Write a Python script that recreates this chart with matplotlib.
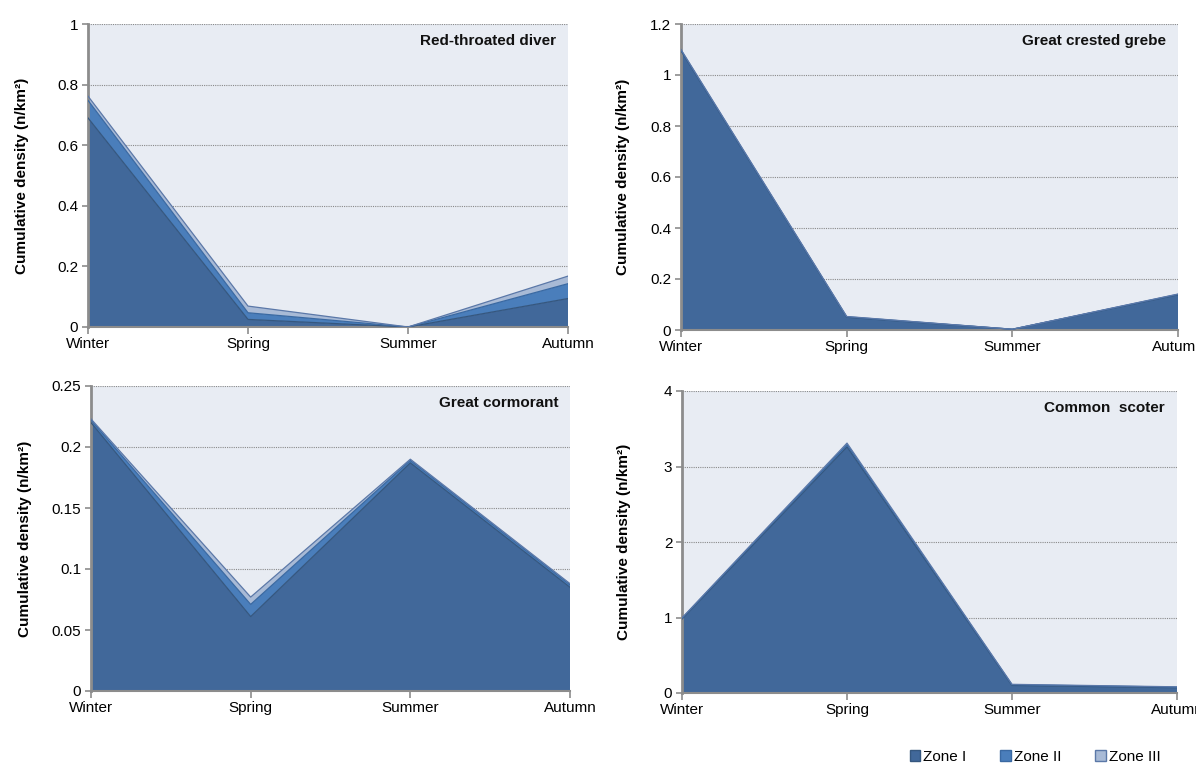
import matplotlib
matplotlib.use("Agg")
import matplotlib.pyplot as plt
from matplotlib.patches import Patch
import numpy as np

plt.rcParams['font.family'] = ['Liberation Sans', 'DejaVu Sans']

seasons = ["Winter", "Spring", "Summer", "Autumn"]
zones = ["Zone I", "Zone II", "Zone III"]

# Red-throated diver
rtd_zone1 = [0.69, 0.025, 0.0, 0.094]
rtd_zone2 = [0.058, 0.022, 0.0, 0.049]
rtd_zone3 = [0.014, 0.022, 0.0, 0.025]
# Great crested grebe
gcg_zone1 = [1.095, 0.050, 0.003, 0.138]
gcg_zone2 = [0.003, 0.002, 0.0, 0.002]
gcg_zone3 = [0.002, 0.001, 0.0, 0.001]
# Great cormorant
gc_zone1 = [0.220, 0.061, 0.187, 0.085]
gc_zone2 = [0.002, 0.010, 0.002, 0.002]
gc_zone3 = [0.001, 0.006, 0.001, 0.001]
# Common scoter
cs_zone1 = [0.98, 3.26, 0.10, 0.07]
cs_zone2 = [0.01, 0.03, 0.01, 0.008]
cs_zone3 = [0.005, 0.02, 0.005, 0.004]

panels = [
    ("Red-throated diver", [rtd_zone1, rtd_zone2, rtd_zone3], 1.0, 0.2),
    ("Great crested grebe", [gcg_zone1, gcg_zone2, gcg_zone3], 1.2, 0.2),
    ("Great cormorant", [gc_zone1, gc_zone2, gc_zone3], 0.25, 0.05),
    ("Common  scoter", [cs_zone1, cs_zone2, cs_zone3], 4.0, 1.0),
]

# axes boxes in pixels: left, right, top, bottom
boxes = [
    (88, 568, 24, 327),
    (681, 1178, 24, 330),
    (91, 570, 386, 691),
    (682, 1177, 391, 693),
]

W, H = 1196, 763
fig = plt.figure(figsize=(W / 100, H / 100), dpi=100)

fill_colors = ["#41689A", "#4A7EBB", "#A8BAD6"]
edge_colors = ["#35577F", "#3A69A2", "#5B78A8"]
bg = "#E8ECF3"
axis_gray = "#8C8C8C"

for (title, data, ymax, step), (l, r, t, b) in zip(panels, boxes):
    ax = fig.add_axes([l / W, 1 - b / H, (r - l) / W, (b - t) / H])
    ax.set_facecolor(bg)
    x = np.arange(len(seasons))
    ax.stackplot(x, *data, colors=fill_colors, edgecolor=None, linewidth=0)
    cum = np.zeros(len(seasons))
    for vals, ec in zip(data, edge_colors):
        cum = cum + np.array(vals)
        ax.plot(x, cum, color=ec, lw=0.9, zorder=3)
    ax.set_xlim(0, 3)
    ax.set_ylim(0, ymax)
    ticks = np.round(np.arange(0, ymax + step / 2, step), 4)
    ax.set_yticks(ticks)
    ax.set_yticklabels(["{:g}".format(v) for v in ticks])
    ax.set_xticks(x)
    ax.set_xticklabels(seasons)
    ax.tick_params(axis='both', labelsize=11, color=axis_gray, direction='out', width=1.2)
    ax.tick_params(axis='x', length=5, pad=2)
    ax.tick_params(axis='y', length=4, pad=3)
    for tk in ticks[1:]:
        ax.axhline(tk, color="#8A8A8A", lw=0.8, ls=(0, (1, 1)), zorder=0.5)
    for s in ["top", "right"]:
        ax.spines[s].set_visible(False)
    ax.spines["left"].set_color(axis_gray)
    ax.spines["left"].set_linewidth(2)
    ax.spines["bottom"].set_color(axis_gray)
    ax.spines["bottom"].set_linewidth(1.5)
    ax.set_axisbelow(False)
    ax.text(0.975, 1 - 17 / (b - t), title, transform=ax.transAxes, ha='right', va='center',
            fontsize=11, fontweight='bold', color='#111111')
    ax.set_ylabel("Cumulative density (n/km²)", fontsize=11, fontweight='bold')
    lab_x_px = l - 59 if l < 600 else l - 51
    ax.yaxis.set_label_coords((lab_x_px - l) / (r - l), 0.5)

handles = [Patch(facecolor=c, edgecolor=e, label=z) for c, e, z in zip(fill_colors, edge_colors, zones)]
fig.legend(handles=handles, loc='center', bbox_to_anchor=(1035 / W, 1 - 757 / H), ncol=3,
           frameon=False, fontsize=11, handlelength=0.7, handleheight=0.7,
           handletextpad=0.2, columnspacing=2.2)

fig.savefig("out.png", dpi=100, facecolor="white")
